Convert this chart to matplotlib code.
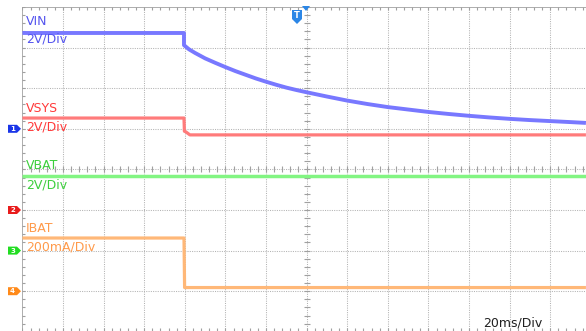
import numpy as np
import matplotlib
matplotlib.use("Agg")
import matplotlib.pyplot as plt
from matplotlib.collections import LineCollection
from matplotlib.patches import Polygon

### Data (time in ms relative to trigger) ###
T_STEP = -60.4
T_END = 137.6

# VIN, 2V/Div, ground marker at +1 div
vin_t = [-140, T_STEP, T_STEP, -58, -55, -50, -45, -40, -35, -30, -25, -20, -15, -10, -5, 0,
         10, 20, 30, 40, 50, 60, 70, 80, 90, 100, 110, 120, 130, T_END]
vin_v = [4.72, 4.72, 4.12, 3.92, 3.74, 3.47, 3.25, 3.04, 2.84, 2.66, 2.48, 2.32, 2.17, 2.03, 1.91, 1.80,
         1.59, 1.39, 1.22, 1.07, 0.95, 0.83, 0.73, 0.64, 0.56, 0.49, 0.43, 0.38, 0.33, 0.29]

# VSYS, 2V/Div, marker at -1 div
vsys_t = [-140, T_STEP, T_STEP + 0.2, -59.5, -57.5, T_END]
vsys_v = [4.53, 4.53, 3.88, 3.85, 3.70, 3.70]

# VBAT, 2V/Div, marker at -2 div
vbat_t = [-140, T_END]
vbat_v = [3.67, 3.67]

# IBAT, 200mA/Div, marker at -3 div
ibat_t = [-140, T_STEP, T_STEP + 0.3, T_END]
ibat_i = [262, 262, 18, 18]

channels = ["VIN", "VSYS", "VBAT", "IBAT"]
scales = ["2V/Div", "2V/Div", "2V/Div", "200mA/Div"]
offsets = [1, -1, -2, -3]
time_label = "20ms/Div"

### Layout (pixels of the 586x331 screenshot) ###
W, H = 586, 331
X0, DIV, YTOP = 22.4, 40.6, 7.0
YC = YTOP + 4 * DIV


def px2data(x, y):
    return ((x - X0) / DIV - 7) * 20, (YC - y) / DIV


fig = plt.figure(figsize=(W / 100, H / 100), dpi=100, facecolor="white")
ax = fig.add_axes([X0 / W, 0, (W - X0) / W, (H - YTOP) / H])
ax.set_facecolor("#f3f3f3")
xmin, ymax = px2data(X0, YTOP)
xmax, ymin = px2data(W, H)
ax.set_xlim(xmin, xmax)
ax.set_ylim(ymin, ymax)
ax.axis("off")

# faint watermark shapes
wm = [
    [(112, 7), (192, 7), (122, 165), (112, 165)],
    [(197, 195), (235, 195), (240, 272), (320, 262), (330, 331), (197, 331)],
    [(393, 7), (447, 7), (447, 190), (393, 190)],
    [(505, 7), (528, 7), (536, 110), (522, 170), (480, 198), (450, 195), (470, 182), (505, 150), (512, 90)],
    [(565, 7), (586, 7), (586, 331), (565, 331)],
]
for poly in wm:
    ax.add_patch(Polygon([px2data(*p) for p in poly], closed=True,
                         facecolor="white", edgecolor="none", zorder=0.5))

# grid
grid_kw = dict(color="#b3b3b3", lw=0.75, ls=(0, (1.0, 1.2)), zorder=1)
for k in range(1, 14):
    ax.axvline(-140 + 20 * k, **grid_kw)
for k in range(-3, 4):
    ax.axhline(k, **grid_kw)
ax.axvline(-140, color="#a0a0a0", lw=1.2, zorder=1)
ax.axhline(4, color="#a0a0a0", lw=1.2, zorder=1)

# minor ticks
tl_x = 3 / DIV * 20
tl_y = 3 / DIV
segs = []
for y in np.arange(-4, 4.01, 0.2):
    segs.append([(-140, y), (-140 + tl_x, y)])
    segs.append([(-tl_x, y), (tl_x, y)])
for x in np.arange(-140, 140, 4):
    segs.append([(x, 4), (x, 4 - tl_y)])
    segs.append([(x, -tl_y), (x, tl_y)])
    segs.append([(x, ymin), (x, ymin + tl_y)])
ax.add_collection(LineCollection(segs, colors="#a0a0a0", linewidths=0.8, zorder=1.2))

# traces
ax.plot(vin_t, np.array(vin_v) / 2 + offsets[0], color="#7878ff", lw=2.8,
        solid_capstyle="butt", solid_joinstyle="round", zorder=3)
ax.plot(vsys_t, np.array(vsys_v) / 2 + offsets[1], color="#ff7b7b", lw=2.3,
        solid_capstyle="butt", zorder=3)
ax.plot(vbat_t, np.array(vbat_v) / 2 + offsets[2], color="#82f582", lw=2.5,
        solid_capstyle="butt", zorder=3)
ax.plot(ibat_t, np.array(ibat_i) / 200 + offsets[3], color="#ffb878", lw=2.3,
        solid_capstyle="butt", zorder=3)

# channel labels
label_colors = ["#5454ee", "#ff3a3a", "#3ccf3c", "#ff9a4a"]
name_base = [25, 112, 169, 232]
scale_base = [43, 131, 188, 251]
for i in range(4):
    fig.text(26 / W, 1 - name_base[i] / H, channels[i], color=label_colors[i],
             fontsize=9, va="baseline", ha="left")
    fig.text(26 / W, 1 - scale_base[i] / H, scales[i], color=label_colors[i],
             fontsize=9, va="baseline", ha="left")
fig.text(483 / W, 1 - 327 / H, time_label, color="#202020", fontsize=9,
         va="baseline", ha="left")

# channel ground markers on the left
marker_colors = ["#1a35e8", "#e81c1c", "#22dd22", "#ff8a1a"]
for i, off in enumerate(offsets):
    yc = YC - off * DIV
    pts = [(8, yc - 4), (17, yc - 4), (21, yc), (17, yc + 4), (8, yc + 4)]
    fig.patches.append(Polygon([(x / W, 1 - y / H) for x, y in pts], closed=True,
                               transform=fig.transFigure, facecolor=marker_colors[i],
                               edgecolor="none"))
    fig.text(12.5 / W, 1 - yc / H, str(i + 1), color="white", fontsize=5,
             ha="center", va="center", fontweight="bold")

# trigger markers
trig = [(292, 10), (302, 10), (302, 19), (297, 24), (292, 19)]
fig.patches.append(Polygon([(x / W, 1 - y / H) for x, y in trig], closed=True,
                           transform=fig.transFigure, facecolor="#2b86e6", edgecolor="none"))
fig.text(297 / W, 1 - 15.5 / H, "T", color="white", fontsize=6, ha="center",
         va="center", fontweight="bold")
top = [(302, 6), (310, 6), (306, 11)]
fig.patches.append(Polygon([(x / W, 1 - y / H) for x, y in top], closed=True,
                           transform=fig.transFigure, facecolor="#2b86e6", edgecolor="none"))

fig.savefig("out.png", dpi=100, facecolor="white")
